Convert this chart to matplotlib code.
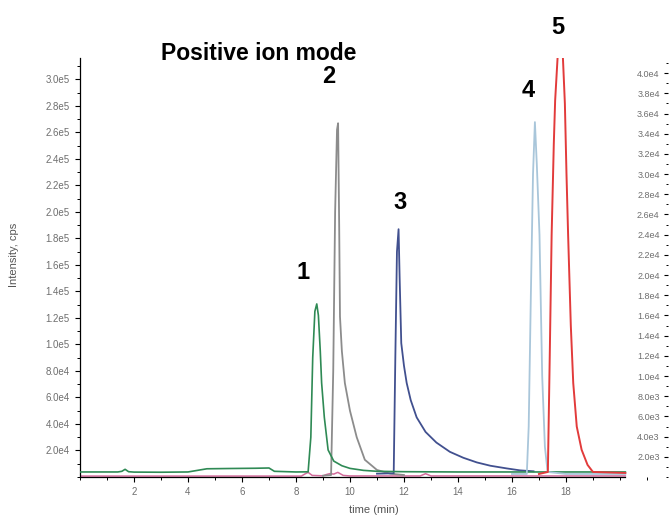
import numpy as np
import matplotlib.pyplot as plt
from matplotlib.ticker import MultipleLocator, FuncFormatter

plt.rcParams['font.family'] = ['Liberation Sans', 'DejaVu Sans']

# 色谱图数据（从图上读取的点，时间 min / 强度 cps）
green_t = [0, 1.4, 1.55, 1.67, 1.8, 2.0, 3.0, 4.0, 4.7, 5.5, 6.5, 7.0, 7.2, 8.0, 8.45,
           8.55, 8.62, 8.7, 8.77, 8.83, 8.9, 8.95, 9.05, 9.19, 9.4, 9.7, 10.0, 10.5,
           11.0, 12.0, 13.0, 14.0, 15.0, 16.0, 17.0, 18.0, 19.0, 20.2]
green_y = [3800, 3800, 4300, 5800, 4000, 3700, 3600, 3800, 6200, 6400, 6600, 6800, 4300, 3800, 3900,
           30000, 90000, 125000, 130600, 122000, 95000, 71000, 45000, 20400, 12000, 8500, 6500, 5000,
           4300, 4000, 3900, 3800, 3800, 3800, 3800, 3800, 3800, 3800]

pink_t = [0, 8.2, 8.35, 8.45, 8.6, 9.0, 9.15, 9.25, 9.4, 9.55, 9.75, 10.0, 12.6, 12.8, 13.0, 20.2]
pink_y = [700, 700, 2500, 3500, 1200, 900, 2000, 2500, 2200, 3500, 1200, 800, 800, 2500, 800, 800]

gray_t = [9.0, 9.3, 9.38, 9.45, 9.52, 9.56, 9.6, 9.63, 9.7, 9.81, 10.0, 10.25, 10.55, 11.0, 11.5, 12.0]
gray_y = [1000, 1500, 80000, 200000, 262000, 267000, 190000, 121000, 95000, 71000, 50000, 30000,
          13000, 5300, 2500, 1500]

blue_t = [11.0, 11.62, 11.68, 11.74, 11.8, 11.84, 11.9, 12.0, 12.1, 12.25, 12.47, 12.8, 13.2, 13.7,
          14.2, 14.7, 15.2, 15.8, 16.3, 16.8]
blue_y = [2500, 2800, 90000, 170000, 187000, 150000, 101000, 84000, 71000, 58000, 45000, 34000,
          26000, 19000, 14500, 11000, 8500, 6500, 5000, 4300]

# 右轴（4.0e4 刻度）
lblue_t = [16.0, 16.55, 16.62, 16.7, 16.78, 16.85, 16.92, 17.02, 17.12, 17.22, 17.32, 18.0, 20.2]
lblue_y = [300, 300, 5000, 18000, 30000, 35150, 31000, 24000, 10000, 3000, 500, 300, 300]

red_t = [17.0, 17.33, 17.4, 17.47, 17.55, 17.6, 17.7, 17.78, 17.88, 17.96, 18.02, 18.08, 18.18,
         18.27, 18.4, 18.58, 18.8, 19.0, 20.2]
red_y = [300, 500, 12000, 24000, 33000, 37300, 42000, 43000, 42000, 37000, 30000, 24000, 15000,
         9300, 5000, 2700, 1200, 500, 400]

peak_labels = ['1', '2', '3', '4', '5']
label_t = [8.26, 9.22, 11.85, 16.6, 17.7]
label_y = [154700, 302000, 206800, 292000, 338900]

left_ticks = np.arange(20000, 300001, 20000)
right_ticks = np.arange(2000, 40001, 2000)
x_ticks = [2, 4, 6, 8, 10, 12, 14, 16, 18]


def sci(v, pos=None):
    m, e = f'{v:.1e}'.split('e')
    return f'{m}e{int(e)}'


tick_color = '#6e6e6e'
fig = plt.figure(figsize=(6.7, 5.15), dpi=100)
ax = fig.add_axes([80 / 670, 38 / 515, 588 / 670, 419 / 515])
ax2 = ax.twinx()

ax.plot(pink_t, pink_y, color='#d36b9b', lw=1.1, zorder=2)
ax.plot(gray_t, gray_y, color='#8c8c8c', lw=1.3, zorder=3)
ax.plot(blue_t, blue_y, color='#41508f', lw=1.3, zorder=3)
ax.plot(green_t, green_y, color='#2f8a55', lw=1.2, zorder=4)
ax2.plot(lblue_t, lblue_y, color='#a9c6da', lw=1.3)
ax2.plot(red_t, red_y, color='#e23b3b', lw=1.4)

ax.set_xlim(0, 21.78)
ax.set_ylim(0, 316200)
ax2.set_ylim(0, 41500)

for s in ['top', 'right']:
    ax.spines[s].set_visible(False)
for s in ['top', 'right', 'left', 'bottom']:
    ax2.spines[s].set_visible(False)
ax.spines['bottom'].set_bounds(0, 20.2)
ax.spines['left'].set_linewidth(0.9)
ax.spines['bottom'].set_linewidth(0.9)

ax.set_xticks(x_ticks)
ax.xaxis.set_minor_locator(MultipleLocator(1))
ax.set_yticks(left_ticks)
ax.yaxis.set_minor_locator(MultipleLocator(10000))
ax.yaxis.set_major_formatter(FuncFormatter(sci))
ax.tick_params(axis='both', which='major', length=3.5, width=0.8, labelsize=7, labelcolor=tick_color)
ax.tick_params(axis='both', which='minor', length=2, width=0.7)
ax.tick_params(axis='y', pad=4)

ax2.set_yticks(right_ticks)
ax2.yaxis.set_minor_locator(MultipleLocator(1000))
ax2.yaxis.set_major_formatter(FuncFormatter(sci))
ax2.tick_params(axis='y', which='major', direction='in', length=3, width=0.8, labelsize=6.5,
                labelcolor=tick_color, pad=-6)
ax2.tick_params(axis='y', which='minor', direction='in', length=1.5, width=0.7)
for lab in ax2.get_yticklabels():
    lab.set_horizontalalignment('right')

ax.set_xlabel('time (min)', fontsize=8, color='#555555', labelpad=6)
fig.text(14 / 670, 1 - 255 / 515, 'Intensity, cps', rotation=90, fontsize=8, color='#555555',
         ha='center', va='center')

fig.text(259 / 670, 1 - 53 / 515, 'Positive ion mode', fontsize=16.5, fontweight='bold',
         ha='center', va='center')
for lab, t, y in zip(peak_labels, label_t, label_y):
    ax.text(t, y, lab, fontsize=17, fontweight='bold', ha='center', va='center')

fig.savefig('out.png', dpi=100)
